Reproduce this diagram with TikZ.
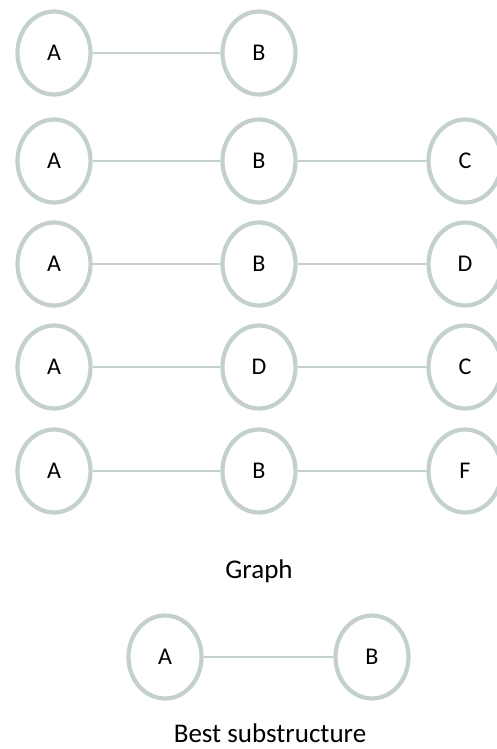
\documentclass[tikz,border=0pt]{standalone}
\usepackage{fontspec}
\setmainfont{Carlito}
\usetikzlibrary{shapes.geometric}
\definecolor{ring}{RGB}{196,208,208}
\tikzset{
  vx/.style={ellipse,draw=ring,line width=4.2pt,fill=white,minimum width=73pt,minimum height=83pt,inner sep=0pt,font=\fontsize{24}{28}\selectfont},
  ed/.style={draw=ring,line width=1.8pt},
  lbl/.style={font=\fontsize{27}{32}\selectfont}
}
\begin{document}
\begin{tikzpicture}[x=1pt,y=-1pt]
\useasboundingbox (0,0) rectangle (497,749);
\node[vx] (a1) at (54,53) {A}; \node[vx] (b1) at (259,53) {B};
\draw[ed] (a1) -- (b1);
\node[vx] (a2) at (54,161) {A}; \node[vx] (b2) at (259,161) {B}; \node[vx] (c2) at (465,161) {C};
\draw[ed] (a2) -- (b2); \draw[ed] (b2) -- (c2);
\node[vx] (a3) at (54,264) {A}; \node[vx] (b3) at (259,264) {B}; \node[vx] (d3) at (465,264) {D};
\draw[ed] (a3) -- (b3); \draw[ed] (b3) -- (d3);
\node[vx] (a4) at (54,367) {A}; \node[vx] (d4) at (259,367) {D}; \node[vx] (c4) at (465,367) {C};
\draw[ed] (a4) -- (d4); \draw[ed] (d4) -- (c4);
\node[vx] (a5) at (54,471) {A}; \node[vx] (b5) at (259,471) {B}; \node[vx] (f5) at (465,471) {F};
\draw[ed] (a5) -- (b5); \draw[ed] (b5) -- (f5);
\node[lbl] (graph) at (259,571) {Graph};
\node[vx] (sa) at (165,657) {A}; \node[vx] (sb) at (372,657) {B};
\draw[ed] (sa) -- (sb);
\node[lbl] (best) at (270,733) {Best substructure};
\end{tikzpicture}
\end{document}
